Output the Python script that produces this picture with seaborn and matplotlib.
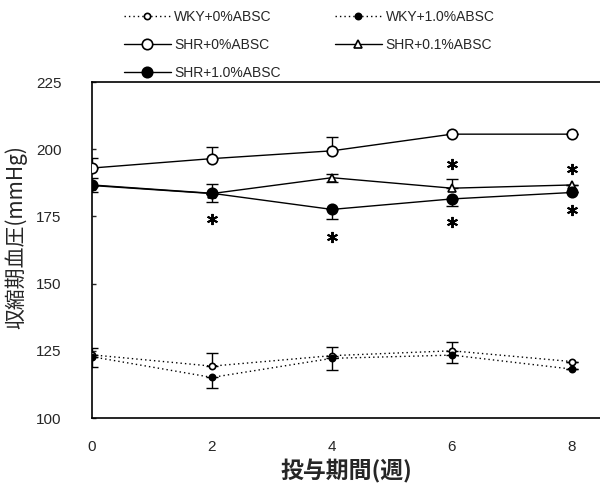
import matplotlib
matplotlib.use("Agg")
import matplotlib.pyplot as plt
import seaborn as sns
import pandas as pd
from matplotlib.lines import Line2D

weeks = [0, 2, 4, 6, 8]

wky0 = [123.5, 119.3, 123.2, 125.0, 121.0]
wky0_lo = [0, 0, 0, 0, 0]
wky0_hi = [2.5, 4.8, 3.1, 3.3, 0]

wky10 = [122.8, 115.1, 122.2, 123.4, 118.2]
wky10_lo = [3.7, 4.0, 4.4, 2.8, 0]
wky10_hi = [0, 0, 0, 0, 0]

shr0 = [193.0, 196.5, 199.4, 205.6, 205.6]
shr0_lo = [0, 0, 0, 0, 0]
shr0_hi = [3.6, 4.5, 5.0, 0, 0]

shr01 = [186.5, 183.5, 189.4, 185.5, 186.7]
shr01_lo = [0, 0, 1.5, 0, 0]
shr01_hi = [0, 0, 1.5, 3.3, 0]

shr10 = [186.7, 183.6, 177.6, 181.5, 183.9]
shr10_lo = [2.5, 3.4, 3.6, 2.5, 0]
shr10_hi = [2.5, 3.5, 0, 0, 0]

star_x = [2, 4, 6, 6, 8, 8]
star_y = [174.0, 167.4, 194.4, 173.0, 192.5, 177.2]

labels = ["WKY+0%ABSC", "WKY+1.0%ABSC", "SHR+0%ABSC", "SHR+0.1%ABSC", "SHR+1.0%ABSC"]
yticks = [100, 125, 150, 175, 200, 225]
xticks = [0, 2, 4, 6, 8]

sns.set_style("white")
plt.rcParams['font.family'] = ['Liberation Sans', 'Noto Sans CJK JP', 'DejaVu Sans']

fig = plt.figure(figsize=(6.0, 4.92), dpi=100)
ax = fig.add_axes([0.1533, 0.1504, 0.8467, 0.6829])

series = [
    (labels[0], wky0, wky0_lo, wky0_hi, dict(ls=(0, (1, 2.2)), marker="o", mfc="white", ms=4.5)),
    (labels[1], wky10, wky10_lo, wky10_hi, dict(ls=(0, (1, 2.2)), marker="o", mfc="black", ms=4.5)),
    (labels[2], shr0, shr0_lo, shr0_hi, dict(ls="-", marker="o", mfc="white", ms=7.5)),
    (labels[3], shr01, shr01_lo, shr01_hi, dict(ls="-", marker="^", mfc="white", ms=5.5)),
    (labels[4], shr10, shr10_lo, shr10_hi, dict(ls="-", marker="o", mfc="black", ms=7.5)),
]

handles = {}
for name, y, lo, hi, st in series:
    df = pd.DataFrame({"x": weeks, "y": y})
    sns.lineplot(data=df, x="x", y="y", ax=ax, color="black", linestyle=st["ls"],
                 lw=1.0, marker=st["marker"], markersize=st["ms"],
                 markerfacecolor=st["mfc"], markeredgecolor="black",
                 markeredgewidth=1.2, zorder=3)
    ax.errorbar(weeks, y, yerr=[lo, hi], fmt="none", ecolor="black",
                elinewidth=1.0, capsize=4, capthick=1.0, zorder=2)
    handles[name] = Line2D([], [], color="black", linestyle=st["ls"], lw=1.0,
                           marker=st["marker"], markersize=st["ms"],
                           markerfacecolor=st["mfc"], markeredgecolor="black",
                           markeredgewidth=1.2)

ax.plot(star_x, star_y, linestyle="none", marker=(6, 2, 0), markersize=8,
        color="black", markeredgewidth=1.4)

ax.set_xlim(0, 8.47)
ax.set_ylim(100, 225)
ax.set_xticks(xticks)
ax.set_yticks(yticks)
ax.set_xticklabels([str(v) for v in xticks], fontsize=11)
ax.set_yticklabels([str(v) for v in yticks], fontsize=11)
ax.tick_params(axis="y", direction="in", length=3, width=1, pad=22, left=True)
ax.tick_params(axis="x", length=0, pad=16)
for s in ["left", "bottom", "top"]:
    ax.spines[s].set_color("black")
    ax.spines[s].set_linewidth(1.2)
ax.spines["right"].set_visible(False)

ax.set_xlabel("投与期間(週)", fontsize=16.5, fontweight="bold",
              family=["Noto Sans CJK JP", "DejaVu Sans"], labelpad=4)
ax.set_ylabel("収縮期血圧(mmHg)", fontsize=15,
              family=["Noto Sans CJK JP", "DejaVu Sans"])
ax.yaxis.set_label_coords(-0.128, 0.539)

order = [labels[0], labels[2], labels[4], labels[1], labels[3]]
fig.legend([handles[k] for k in order], order, ncol=2, loc="upper left",
           bbox_to_anchor=(0.185, 1.005), frameon=False, fontsize=10,
           handlelength=3.4, columnspacing=3.9, labelspacing=1.0,
           handletextpad=0.25)

fig.savefig("out.png", dpi=100)
